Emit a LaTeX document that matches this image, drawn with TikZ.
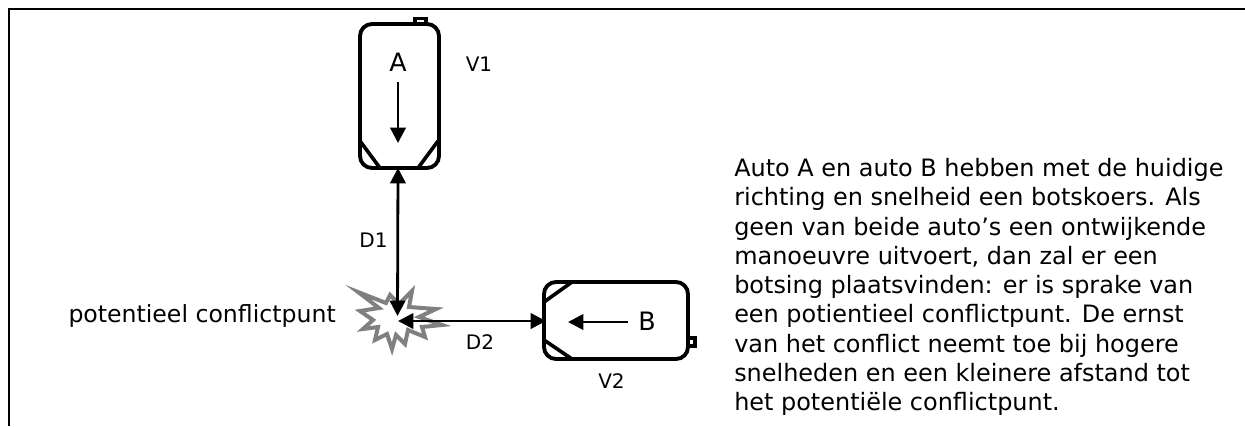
\documentclass[tikz,border=0pt]{standalone}
\usepackage{fontspec}
\setmainfont{DejaVu Sans}
\usetikzlibrary{arrows.meta}
\tikzset{
  x=0.75pt,y=-0.75pt,
  frameline/.style={line width=1.7pt,black},
  carbody/.style={draw=black,line width=2.9pt,rounded corners=9pt,fill=white},
  carline/.style={draw=black,line width=2.7pt},
  tab/.style={draw=black,line width=2.3pt,fill=white},
  arrowline/.style={draw=black,line width=2.1pt,-{Triangle[length=11.5pt,width=11.5pt]}},
  botharrow/.style={draw=black,line width=2.1pt,{Triangle[length=11.5pt,width=11.5pt]}-{Triangle[length=11.5pt,width=11.5pt]}},
  lab/.style={font=\fontsize{15pt}{17pt}\selectfont,inner sep=0pt},
  biglab/.style={font=\fontsize{19pt}{22pt}\selectfont,inner sep=0pt},
  bodylab/.style={font=\fontsize{17.7pt}{20pt}\selectfont,inner sep=0pt},
  para/.style={font=\fontsize{17.95pt}{21.94pt}\selectfont,inner sep=0pt,align=left,anchor=base west},
}
\definecolor{stargray}{HTML}{808080}
\begin{document}
\begin{tikzpicture}
\useasboundingbox (0,0) rectangle (1245,426);
\draw[frameline] (9,426) -- (9,9) -- (1245,9);
% car A
\draw[tab] (415,18.5) rectangle (426,24);
\draw[carbody] (360,24) rectangle (439,168);
\draw[carline] (360,141) -- (380,168);
\draw[carline] (438,141) -- (418,168);
\node[biglab] (A) at (398,62) {A};
\coordinate (Atop) at (398,82);
\coordinate (Atip) at (398,143);
\draw[arrowline] (Atop) -- (Atip);
\node[lab] (V1) at (479,64) {V1};
% star
\draw[draw=stargray,line width=3pt,fill=white,line join=miter,miter limit=8]
 (358,292) -- (386,303) -- (390,295) -- (399,304) -- (412,291) -- (409,307) -- (436,309)
 -- (419,317) -- (442,325) -- (422,327) -- (425,337) -- (408,330) -- (405,344) -- (396,335) -- (392,349) -- (387,334)
 -- (375,340) -- (378,327) -- (363,329) -- (373,320) -- (360,311) -- (379,308) -- cycle;
% connectors
\coordinate (Abottom) at (398,168);
\coordinate (Bleft) at (546,321);
\coordinate (hitA) at (397.5,316);
\coordinate (hitB) at (398,321);
\draw[botharrow] (Abottom) -- (hitA);
\draw[botharrow] (hitB) -- (Bleft);
% car B
\draw[tab] (688,338) rectangle (695,346);
\draw[carbody] (544,282) rectangle (688,359);
\draw[carline] (544,302) -- (572,282);
\draw[carline] (544,340) -- (572,359);
\node[biglab] (B) at (647,321) {B};
\coordinate (Bstart) at (628,322);
\coordinate (Btip) at (568,322);
\draw[arrowline] (Bstart) -- (Btip);
\node[lab] (V2) at (611.5,381) {V2};
\node[lab] (D1) at (373.5,240) {D1};
\node[lab] (D2) at (480,342) {D2};
\node[bodylab,anchor=base east] (pc) at (336,322) {potentieel conflictpunt};
\node[para] (txt) at (734,410.7) {Auto A en auto B hebben met de huidige\\richting en snelheid een botskoers. Als\\geen van beide auto’s een ontwijkende\\manoeuvre uitvoert, dan zal er een\\botsing plaatsvinden: er is sprake van\\een potientieel conflictpunt. De ernst\\van het conflict neemt toe bij hogere\\snelheden en een kleinere afstand tot\\het potentiële conflictpunt.};
\end{tikzpicture}
\end{document}
